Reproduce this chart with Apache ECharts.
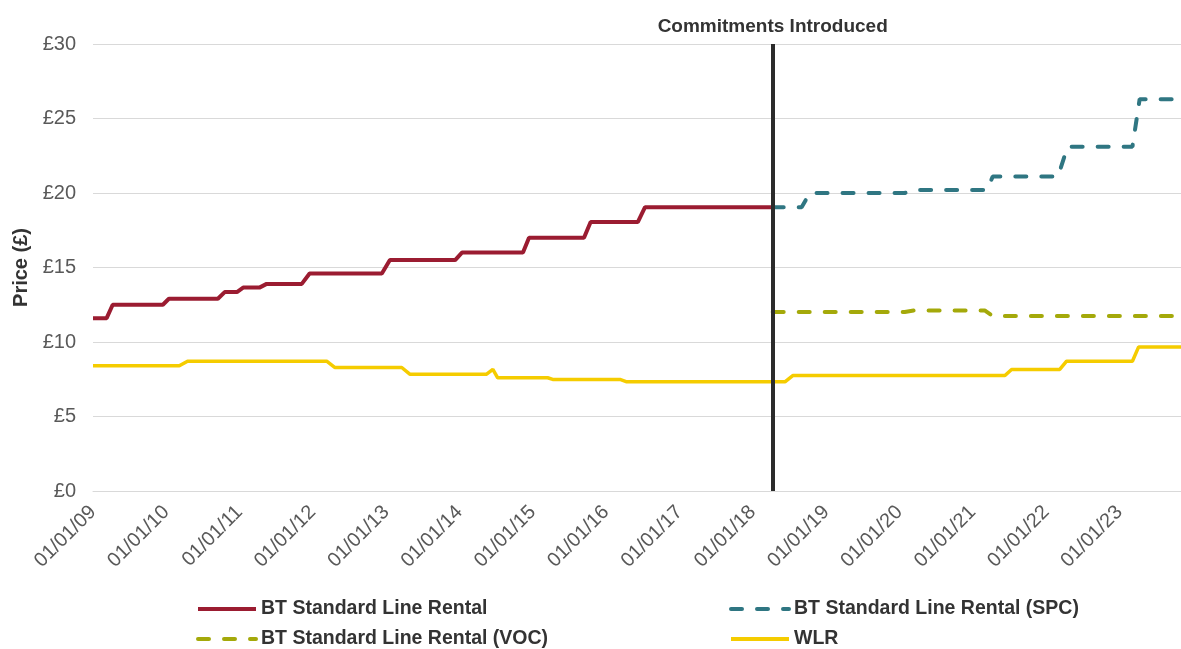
<!DOCTYPE html>
<html>
<head>
<meta charset="utf-8">
<script src="https://cdn.jsdelivr.net/npm/echarts@6/dist/echarts.min.js"></script>
<style>
html,body{margin:0;padding:0;background:#fff;}
#chart{width:1181px;height:649px;}
</style>
</head>
<body>
<div id="chart"></div>
<script>
// ---- data (date, price £) ----
const seriesNames = [
  'BT Standard Line Rental',
  'BT Standard Line Rental (SPC)',
  'BT Standard Line Rental (VOC)',
  'WLR'
];
const btLineRental = [
  ['2009-01-01', 11.6], ['2009-03-10', 11.6], ['2009-04-09', 12.5],
  ['2009-12-15', 12.5], ['2010-01-14', 12.9], ['2010-09-15', 12.9],
  ['2010-10-19', 13.35], ['2010-12-19', 13.35], ['2011-01-19', 13.65],
  ['2011-04-10', 13.65], ['2011-05-16', 13.9], ['2011-11-07', 13.9],
  ['2011-12-16', 14.6], ['2012-12-10', 14.6], ['2013-01-19', 15.5],
  ['2013-12-10', 15.5], ['2014-01-13', 16.0], ['2014-11-13', 16.0],
  ['2014-12-13', 17.0], ['2015-09-13', 17.0], ['2015-10-16', 18.05],
  ['2016-06-07', 18.05], ['2016-07-13', 19.05], ['2018-04-10', 19.05]
];
const btSPC = [
  ['2018-04-10', 19.05], ['2018-09-01', 19.05], ['2018-10-12', 20.0],
  ['2020-01-28', 20.0], ['2020-03-18', 20.2], ['2021-03-12', 20.2],
  ['2021-04-10', 21.1], ['2022-03-01', 21.1], ['2022-04-18', 23.1],
  ['2023-03-07', 23.1], ['2023-04-12', 26.3], ['2023-11-04', 26.3]
];
const btVOC = [
  ['2018-04-10', 12.02], ['2020-01-28', 12.02], ['2020-03-18', 12.12],
  ['2021-03-01', 12.12], ['2021-04-10', 11.75], ['2023-11-04', 11.75]
];
const wlr = [
  ['2009-01-01', 8.40], ['2010-03-07', 8.40], ['2010-04-17', 8.71],
  ['2012-03-10', 8.71], ['2012-04-19', 8.29], ['2013-03-19', 8.29],
  ['2013-04-28', 7.84], ['2014-05-16', 7.84], ['2014-06-16', 8.16],
  ['2014-07-10', 7.60], ['2015-03-16', 7.60], ['2015-04-10', 7.49],
  ['2016-03-10', 7.49], ['2016-04-13', 7.33], ['2018-06-10', 7.33],
  ['2018-07-19', 7.75], ['2021-06-10', 7.75], ['2021-07-13', 8.16],
  ['2022-03-10', 8.16], ['2022-04-13', 8.71], ['2023-03-07', 8.71],
  ['2023-04-07', 9.67], ['2023-11-04', 9.67]
];
const commitmentsDate = '2018-04-10';
const commitmentsLabel = 'Commitments Introduced';
const xMin = '2009-01-01';
const xMax = '2023-11-04';
const yMin = 0, yMax = 30, yStep = 5;
const yAxisName = 'Price (£)';

const chart = echarts.init(document.getElementById('chart'));
const DAY = 86400000;
const legendText = {fontFamily: 'Liberation Sans', fontSize: 19.5, fontWeight: 'bold', color: '#333'};
function mkLegend(name, left, top, dashed) {
  return {
    orient: 'horizontal', left: left, top: top, itemWidth: 58, itemHeight: 20, itemGap: 0,
    data: [name], textStyle: legendText, selectedMode: false,
    itemStyle: {opacity: 0},
    lineStyle: dashed ? {width: 4, cap: 'round'} : {width: 4, cap: 'butt'}
  };
}

const option = {
  animation: false,
  grid: {left: 93, right: 0, top: 44, bottom: 158, containLabel: false},
  legend: [
    mkLegend(seriesNames[0], 191, 594, false),
    mkLegend(seriesNames[2], 191, 624, true),
    mkLegend(seriesNames[1], 724, 594, true),
    mkLegend(seriesNames[3], 724, 624, false)
  ],
  xAxis: {
    type: 'time', min: xMin, max: xMax,
    minInterval: 365 * DAY, maxInterval: 366 * DAY,
    axisLine: {show: true, lineStyle: {color: '#d9d9d9', width: 1}},
    axisTick: {show: false},
    splitLine: {show: false},
    axisLabel: {
      rotate: 45, margin: 18, fontFamily: 'Liberation Sans', fontSize: 20, color: '#595959',
      formatter: '{dd}/{MM}/{yy}', showMinLabel: true, hideOverlap: false
    }
  },
  yAxis: {
    type: 'value', min: yMin, max: yMax, interval: yStep,
    name: yAxisName, nameLocation: 'middle', nameGap: 62, nameRotate: 90,
    nameTextStyle: {fontFamily: 'Liberation Sans', fontSize: 20, fontWeight: 'bold', color: '#333'},
    axisLine: {show: false}, axisTick: {show: false},
    splitLine: {lineStyle: {color: '#d9d9d9', width: 1}},
    axisLabel: {formatter: '£{value}', margin: 17, fontFamily: 'Liberation Sans', fontSize: 20, color: '#595959'}
  },
  series: [
    {name: seriesNames[0], type: 'line', data: btLineRental, symbol: 'none',
     lineStyle: {color: '#9b1c31', width: 4}, itemStyle: {color: '#9b1c31'}, z: 3,
     markLine: {
       silent: true, symbol: 'none', animation: false,
       lineStyle: {color: '#2b2b2b', width: 4, type: 'solid'},
       label: {show: true, position: 'end', formatter: commitmentsLabel, distance: 8,
               fontFamily: 'Liberation Sans', fontSize: 19, fontWeight: 'bold', color: '#333'},
       data: [{xAxis: commitmentsDate}]
     }},
    {name: seriesNames[1], type: 'line', data: btSPC, symbol: 'none',
     lineStyle: {color: '#2f7682', width: 4, type: [11, 15], cap: 'round'}, itemStyle: {color: '#2f7682'}, z: 4},
    {name: seriesNames[2], type: 'line', data: btVOC, symbol: 'none',
     lineStyle: {color: '#a4a90a', width: 4, type: [11, 15], cap: 'round'}, itemStyle: {color: '#a4a90a'}, z: 4},
    {name: seriesNames[3], type: 'line', data: wlr, symbol: 'none',
     lineStyle: {color: '#f5cc00', width: 3.5}, itemStyle: {color: '#f5cc00'}, z: 2}
  ]
};
chart.setOption(option);
</script>
</body>
</html>
